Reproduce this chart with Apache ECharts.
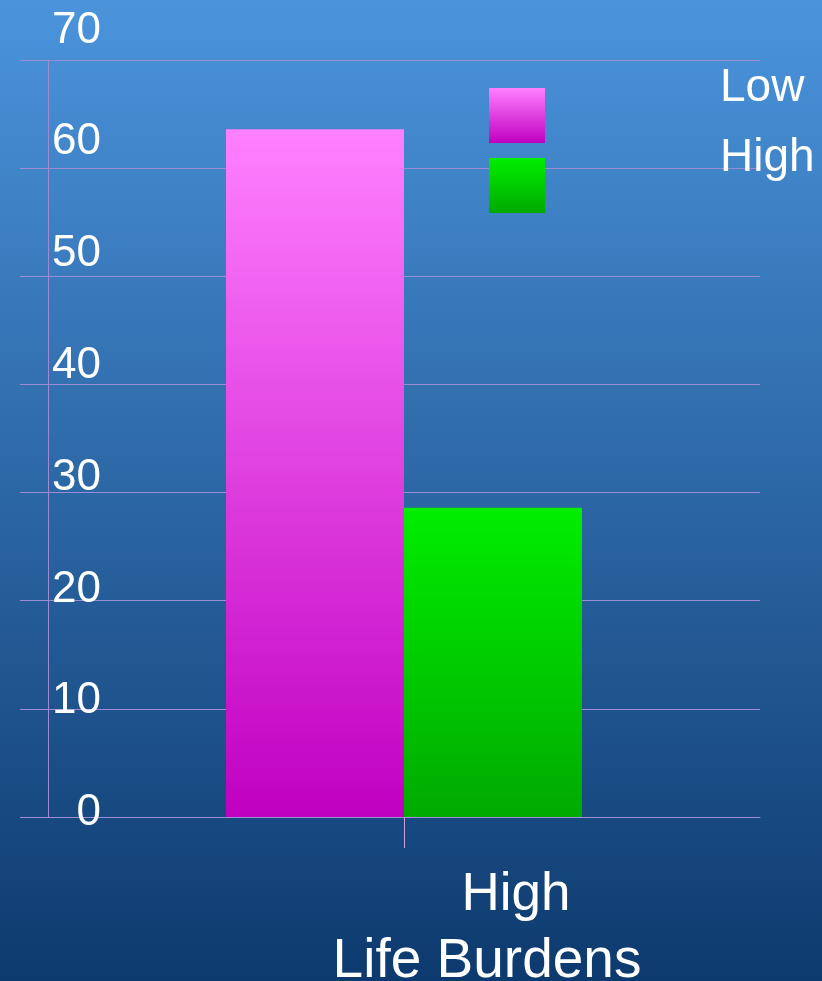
<!DOCTYPE html>
<html>
<head>
<meta charset="utf-8">
<script src="https://cdn.jsdelivr.net/npm/echarts@6/dist/echarts.min.js"></script>
<style>html,body{margin:0;padding:0;}#c{width:822px;height:981px;}</style>
</head>
<body>
<div id="c"></div>
<script>
const categories = ['High'];
const seriesNames = ['Low', 'High'];
const lowValues = [63.6];
const highValues = [28.6];
const yTickLabels = [0, 10, 20, 30, 40, 50, 60, 70];
const xAxisTitle = 'Life Burdens';

const FONT = 'Liberation Sans, Arial, sans-serif';
const LINE = '#9d8bd3';

function grad(top, bottom) {
  return new echarts.graphic.LinearGradient(0, 0, 0, 1, [
    { offset: 0, color: top }, { offset: 1, color: bottom }
  ]);
}

const chart = echarts.init(document.getElementById('c'));
chart.setOption({
  animation: false,
  backgroundColor: grad('#4b94dc', '#0d3a6e'),
  grid: [
    { left: 48, right: 62, top: 60, bottom: 164, outerBoundsMode: 'none', containLabel: false },
    { left: 101, right: 62, top: 30.5, bottom: 168, outerBoundsMode: 'none', containLabel: false }
  ],
  legend: {
    orient: 'vertical',
    left: 489,
    top: 60.5,
    padding: 0,
    itemWidth: 56,
    itemHeight: 55,
    itemGap: -40,
    icon: 'rect',
    data: seriesNames,
    formatter: function (name) { return name + '\n '; },
    textStyle: { color: '#fff', fontSize: 46, lineHeight: 55, fontFamily: FONT, padding: [0, 0, 0, 170] }
  },
  xAxis: [
    {
      type: 'category',
      gridIndex: 0,
      data: categories,
      axisLine: { show: true, lineStyle: { color: LINE, width: 1 } },
      axisTick: { show: true, alignWithLabel: true, length: 31, lineStyle: { color: '#c9a0e0', width: 1 } },
      axisLabel: { color: '#fff', fontSize: 53, fontFamily: FONT, margin: 52, padding: [0, 0, 0, 224] },
      name: xAxisTitle,
      nameLocation: 'middle',
      nameGap: 117,
      nameTextStyle: { color: '#fff', fontSize: 55, fontFamily: FONT, padding: [0, 0, 0, 166] }
    },
    {
      type: 'value', gridIndex: 1, show: false
    }
  ],
  yAxis: [
    {
      type: 'value',
      gridIndex: 0,
      position: 'left',
      min: 0, max: 70, interval: 10,
      axisLine: { show: true, lineStyle: { color: LINE, width: 1 } },
      axisTick: { show: true, length: 28, lineStyle: { color: LINE, width: 1 } },
      axisLabel: { show: false },
      splitLine: { show: true, lineStyle: { color: LINE, width: 1 } }
    },
    {
      type: 'value',
      gridIndex: 1,
      position: 'left',
      min: 0, max: 70, interval: 10,
      axisLine: { show: false },
      axisTick: { show: false },
      splitLine: { show: false },
      axisLabel: { color: '#fff', fontSize: 44, fontFamily: FONT, margin: 0, customValues: yTickLabels }
    }
  ],
  series: [
    {
      name: seriesNames[0], type: 'bar', xAxisIndex: 0, yAxisIndex: 0,
      data: lowValues, barWidth: 178, barGap: '0%',
      itemStyle: { color: grad('#ff80ff', '#c000c0') }
    },
    {
      name: seriesNames[1], type: 'bar', xAxisIndex: 0, yAxisIndex: 0,
      data: highValues, barWidth: 178, barGap: '0%',
      itemStyle: { color: grad('#00ee00', '#00aa00') }
    }
  ]
});
</script>
</body>
</html>
